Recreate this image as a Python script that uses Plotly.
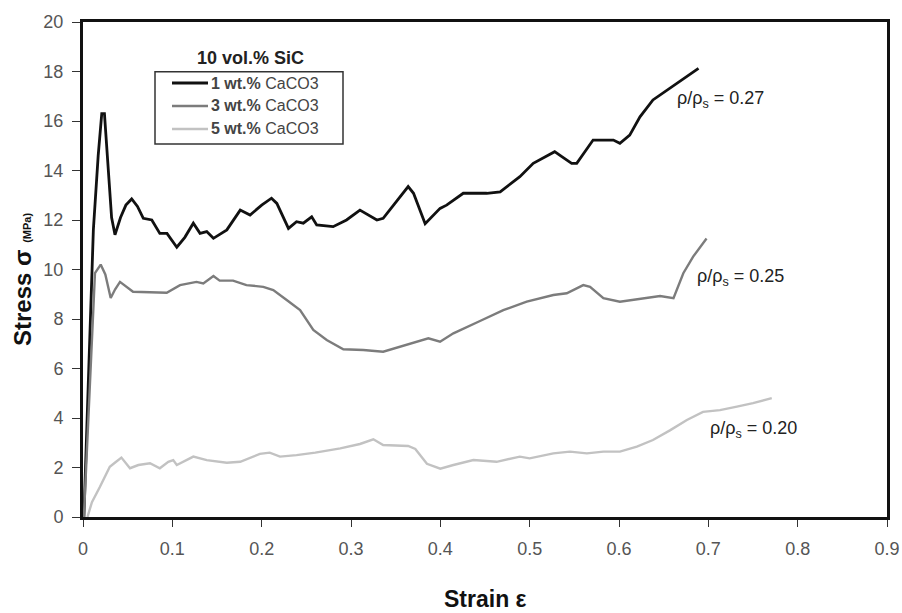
import plotly.graph_objects as go

# Stress-strain curves of SiC-reinforced foams (10 vol.% SiC)
strain_1wt = [0.001, 0.006, 0.0116, 0.017, 0.021, 0.024, 0.0284, 0.032, 0.0358, 0.042,
              0.048, 0.0545, 0.061, 0.0675, 0.077, 0.086, 0.094, 0.105, 0.114, 0.1235,
              0.131, 0.1385, 0.146, 0.161, 0.176, 0.187, 0.2, 0.211, 0.217, 0.23,
              0.239, 0.2466, 0.256, 0.2616, 0.28, 0.295, 0.31, 0.329, 0.336, 0.35,
              0.364, 0.37, 0.383, 0.3997, 0.407, 0.4257, 0.452, 0.467, 0.489, 0.504,
              0.528, 0.536, 0.547, 0.5527, 0.571, 0.5937, 0.601, 0.612, 0.6235, 0.638,
              0.657, 0.672, 0.689]
stress_1wt = [0.0, 5.1, 11.6, 14.6, 16.3, 16.3, 13.9, 12.1, 11.4, 12.1,
              12.6, 12.85, 12.55, 12.07, 12.0, 11.46, 11.46, 10.9, 11.3, 11.87,
              11.46, 11.53, 11.26, 11.6, 12.4, 12.2, 12.6, 12.88, 12.67, 11.66,
              11.93, 11.87, 12.13, 11.8, 11.73, 12.0, 12.4, 12.0, 12.07, 12.7,
              13.35, 13.08, 11.85, 12.47, 12.6, 13.08, 13.08, 13.14, 13.75, 14.29,
              14.76, 14.56, 14.29, 14.29, 15.23, 15.23, 15.1, 15.43, 16.17, 16.85,
              17.32, 17.72, 18.13]

strain_3wt = [0.001, 0.004, 0.0116, 0.0134, 0.0198, 0.025, 0.031, 0.036, 0.0414, 0.056,
              0.0937, 0.1086, 0.127, 0.1347, 0.146, 0.153, 0.168, 0.183, 0.2018, 0.213,
              0.228, 0.243, 0.2578, 0.2728, 0.2914, 0.3138, 0.336, 0.355, 0.3866, 0.3997,
              0.4146, 0.4444, 0.4705, 0.4967, 0.5265, 0.5415, 0.56, 0.5676, 0.5825, 0.601,
              0.631, 0.646, 0.661, 0.672, 0.683, 0.698]
stress_3wt = [0.0, 2.44, 8.5, 9.85, 10.2, 9.8, 8.85, 9.2, 9.5, 9.1,
              9.06, 9.37, 9.5, 9.44, 9.74, 9.55, 9.55, 9.37, 9.3, 9.17,
              8.77, 8.36, 7.56, 7.15, 6.78, 6.75, 6.68, 6.88, 7.22, 7.08,
              7.42, 7.92, 8.36, 8.7, 8.97, 9.04, 9.37, 9.3, 8.84, 8.7,
              8.84, 8.93, 8.84, 9.85, 10.52, 11.25]

strain_5wt = [0.005, 0.01, 0.019, 0.030, 0.036, 0.043, 0.0526, 0.062, 0.075, 0.086,
              0.0955, 0.101, 0.105, 0.1235, 0.1385, 0.161, 0.176, 0.198, 0.209, 0.2205,
              0.239, 0.26, 0.288, 0.31, 0.325, 0.336, 0.364, 0.372, 0.385, 0.4,
              0.4146, 0.437, 0.463, 0.489, 0.5, 0.5265, 0.545, 0.564, 0.5825, 0.601,
              0.62, 0.638, 0.657, 0.676, 0.694, 0.713, 0.732, 0.75, 0.771]
stress_5wt = [0.0, 0.6, 1.22, 2.03, 2.2, 2.4, 1.97, 2.1, 2.17, 1.97,
              2.23, 2.3, 2.1, 2.44, 2.3, 2.19, 2.23, 2.55, 2.6, 2.44,
              2.5, 2.6, 2.77, 2.95, 3.14, 2.91, 2.87, 2.75, 2.15, 1.95,
              2.1, 2.3, 2.23, 2.44, 2.37, 2.57, 2.64, 2.57, 2.64, 2.64,
              2.84, 3.11, 3.5, 3.92, 4.25, 4.32, 4.46, 4.6, 4.8]

series_names = ["<b>1 wt.%</b> CaCO3", "<b>3 wt.%</b> CaCO3", "<b>5 wt.%</b> CaCO3"]
series_colors = ["#111111", "#7c7c7c", "#c2c2c2"]
series_widths = [2.8, 2.4, 2.4]

density_labels = ["ρ/ρ<sub>s</sub> = 0.27", "ρ/ρ<sub>s</sub> = 0.25", "ρ/ρ<sub>s</sub> = 0.20"]
label_x = [0.6627, 0.685, 0.6997]
label_y = [16.85, 9.66, 3.52]

x_ticks = [0, 0.1, 0.2, 0.3, 0.4, 0.5, 0.6, 0.7, 0.8, 0.9]
x_tick_text = ["0", "0.1", "0.2", "0.3", "0.4", "0.5", "0.6", "0.7", "0.8", "0.9"]
y_ticks = [0, 2, 4, 6, 8, 10, 12, 14, 16, 18, 20]

# figure / plot-area geometry in pixels
W, H = 902, 613
PL, PR, PT, PB = 83, 887, 22, 517


def px(xp):
    return (xp - PL) / (PR - PL)


def py(yp):
    return (PB - yp) / (PB - PT)


SANS = "Liberation Sans, Arial, sans-serif"
NARROW = "Liberation Sans Narrow, Arial Narrow, Liberation Sans, sans-serif"

fig = go.Figure()
for xs, ys, name, color, w in zip(
        [strain_1wt, strain_3wt, strain_5wt],
        [stress_1wt, stress_3wt, stress_5wt],
        series_names, series_colors, series_widths):
    fig.add_trace(go.Scatter(x=xs, y=ys, mode="lines", name=name,
                             line=dict(color=color, width=w), showlegend=False))

for txt, lx, ly in zip(density_labels, label_x, label_y):
    fig.add_annotation(x=lx, y=ly, text=txt, showarrow=False, xanchor="left",
                       yanchor="middle", font=dict(family=SANS, size=18, color="#222222"))

# boxed key with its heading above
fig.add_shape(type="rect", xref="paper", yref="paper",
              x0=px(155), x1=px(343), y0=py(144), y1=py(71.7),
              line=dict(color="#333333", width=1.5), fillcolor="white", layer="below")
fig.add_annotation(x=px(250), y=py(58), xref="paper", yref="paper",
                   text="<b>10 vol.% SiC</b>", showarrow=False,
                   xanchor="center", yanchor="middle",
                   font=dict(family=SANS, size=18, color="#222222"))
for i, (name, color, w) in enumerate(zip(series_names, series_colors, series_widths)):
    row_y = py(83 + 23 * i)
    fig.add_shape(type="line", xref="paper", yref="paper",
                  x0=px(172), x1=px(208), y0=row_y, y1=row_y,
                  line=dict(color=color, width=w))
    fig.add_annotation(x=px(209), y=row_y, xref="paper", yref="paper", text=name,
                       showarrow=False, xanchor="left", yanchor="middle",
                       font=dict(family=SANS, size=16, color="#444444"))

# axis titles
fig.add_annotation(x=px(485), y=py(599), xref="paper", yref="paper",
                   text="<b>Strain ε</b>", showarrow=False,
                   xanchor="center", yanchor="middle",
                   font=dict(family=SANS, size=23, color="#111111"))
fig.add_annotation(x=px(22), y=py(280), xref="paper", yref="paper",
                   text="<b>Stress σ </b><span style='font-size:11px'><b>(MPa)</b></span>",
                   showarrow=False, textangle=-90, xanchor="center", yanchor="middle",
                   font=dict(family=SANS, size=24, color="#111111"))

tick_font = dict(family=NARROW, size=18, color="#555555")

fig.update_xaxes(range=[0, 0.9], tickvals=x_ticks, ticktext=x_tick_text,
                 showgrid=False, zeroline=False, showline=True, linewidth=3,
                 linecolor="#111111", mirror=True, ticks="outside", ticklen=7,
                 tickwidth=1, tickcolor="#333333", tickfont=tick_font,
                 ticklabelstandoff=6, automargin=False)
fig.update_yaxes(range=[0, 20], tickvals=y_ticks, showgrid=False, zeroline=False,
                 showline=True, linewidth=3, linecolor="#111111", mirror=True,
                 ticks="outside", ticklen=8, tickwidth=1, tickcolor="#333333",
                 tickfont=tick_font, ticklabelstandoff=5, automargin=False)

fig.update_layout(
    width=W, height=H,
    margin=dict(l=PL, r=W - PR, t=PT, b=H - PB),
    paper_bgcolor="white", plot_bgcolor="white",
    showlegend=False,
)

fig.write_html("out.html")
